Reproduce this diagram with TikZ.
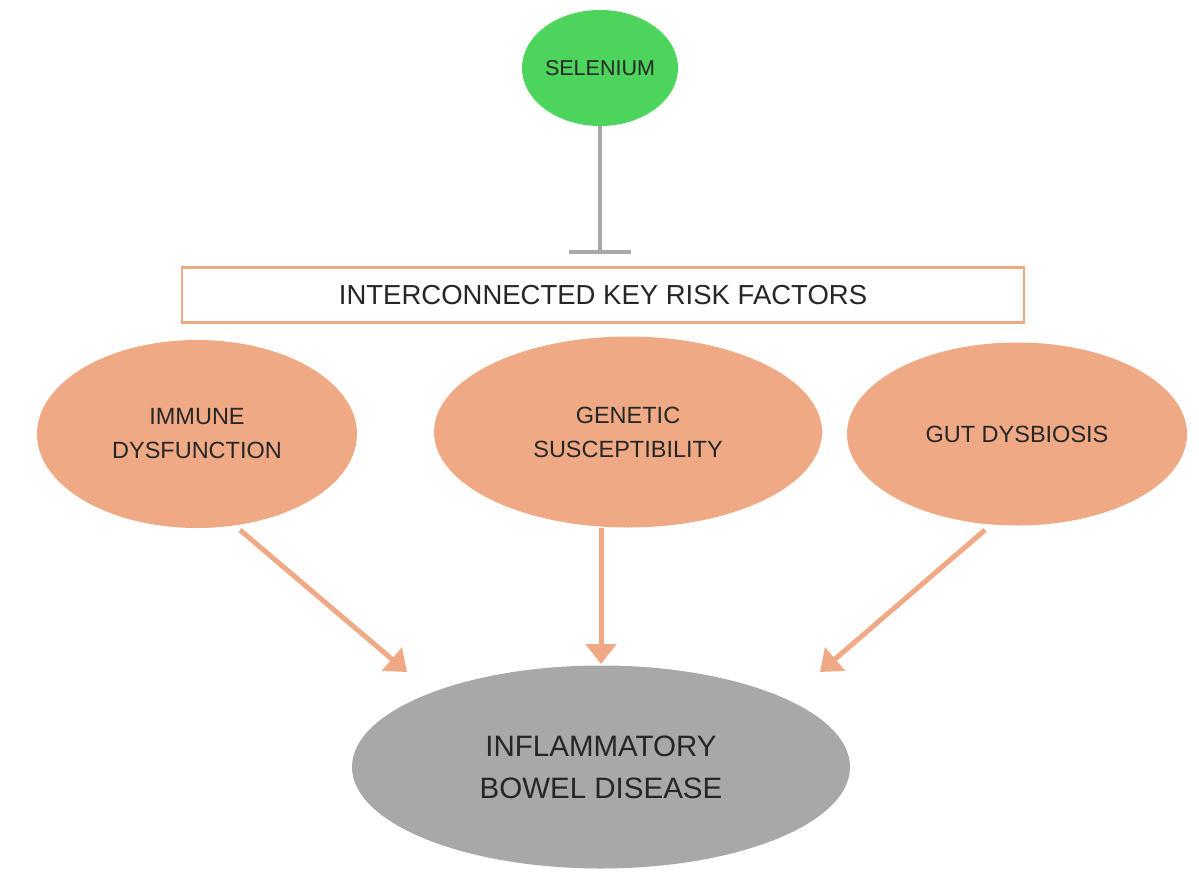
\documentclass[tikz,border=0pt]{standalone}
\usepackage{fontspec}
\setmainfont{Liberation Sans}
\usetikzlibrary{shapes.geometric,arrows.meta}
\definecolor{sal}{HTML}{EFAA85}
\definecolor{grn}{HTML}{4CD45C}
\definecolor{gry}{HTML}{A8A8A8}
\begin{document}
\begin{tikzpicture}[x=1pt,y=-1pt,
  ell/.style={ellipse,inner sep=0,align=center,font=\fontsize{23.5}{34}\selectfont,text=black!85},
  arr/.style={draw=sal,line width=5pt,-{Triangle[length=20pt,width=30pt]}}]
\useasboundingbox (0,0) rectangle (1199,883);
\node[ell,fill=grn,minimum width=156pt,minimum height=116pt,font=\fontsize{21.5}{30}\selectfont] (se) at (600,68) {SELENIUM};
\node[draw=sal,line width=2.5pt,fill=white,minimum width=842pt,minimum height=55pt,inner sep=0,font=\fontsize{27.5}{30}\selectfont,text=black!85] (box) at (603,295) {INTERCONNECTED KEY RISK FACTORS};
\coordinate (tb) at (600,252);
\draw[gry,line width=4pt] (se.south) -- (tb);
\draw[gry,line width=4pt] ([xshift=-31pt]tb) -- ([xshift=31pt]tb);
\node[ell,fill=sal,minimum width=320pt,minimum height=188pt] (im) at (197,434) {IMMUNE\\DYSFUNCTION};
\node[ell,fill=sal,minimum width=388pt,minimum height=191pt] (ge) at (628,432) {GENETIC\\SUSCEPTIBILITY};
\node[ell,fill=sal,minimum width=340pt,minimum height=183pt] (gu) at (1017,434) {GUT DYSBIOSIS};
\node[ell,fill=gry,minimum width=498pt,minimum height=203pt,font=\fontsize{29.5}{42}\selectfont] (ibd) at (601,767) {INFLAMMATORY\\BOWEL DISEASE};
\coordinate (a1) at (240,530); \coordinate (b1) at (407,672);
\coordinate (a2) at (601,528); \coordinate (b2) at (601,664);
\coordinate (a3) at (985,530); \coordinate (b3) at (820,672);
\draw[arr] (a1) -- (b1);
\draw[arr] (a2) -- (b2);
\draw[arr] (a3) -- (b3);
\end{tikzpicture}
\end{document}
